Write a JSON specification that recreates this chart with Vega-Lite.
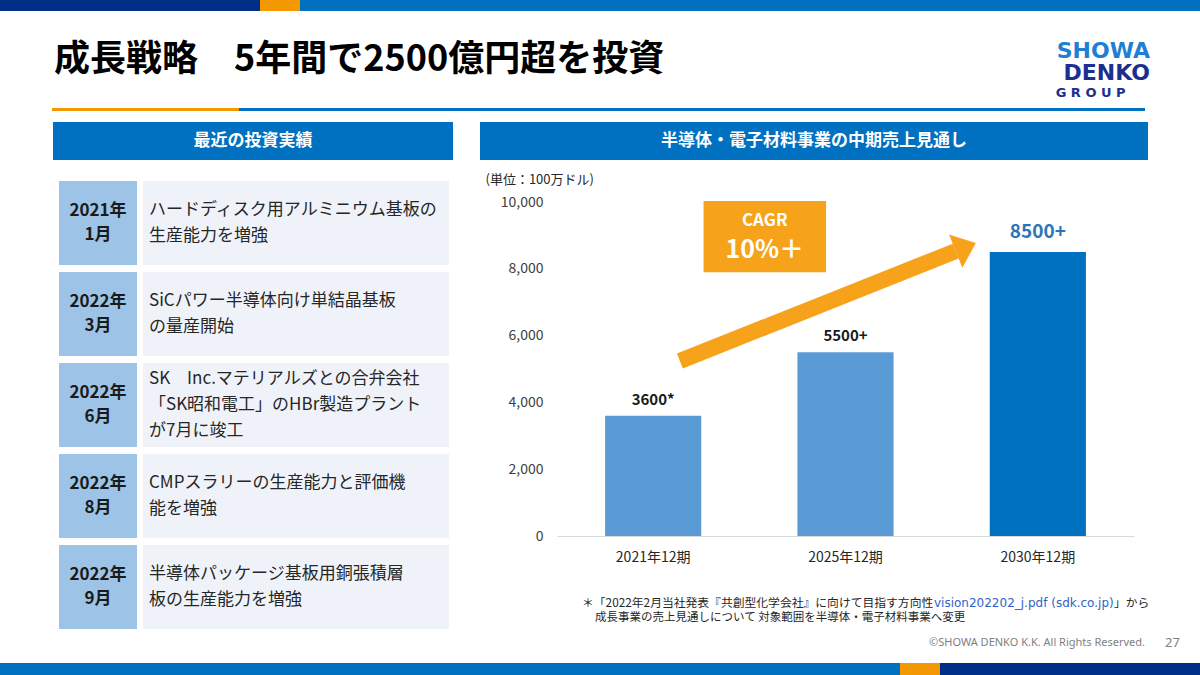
{
  "$schema": "https://vega.github.io/schema/vega-lite/v6.json",
  "padding": 0,
  "background": "#ffffff",
  "autosize": {"type": "pad"},
  "config": {
    "view": {"stroke": null},
    "font": "Noto Sans CJK JP",
    "concat": {"spacing": 0},
    "numberFormat": ",",
    "axisY": {"labelFontSize": 14, "labelColor": "#404040", "labelPadding": 14, "domain": false, "ticks": false, "tickSize": 0, "grid": false, "tickCount": 5,
              "titleAngle": 0, "titleX": -72, "titleY": -23, "titleAlign": "left", "titleBaseline": "middle", "titleFontSize": 13, "titleFontWeight": "normal", "titleColor": "#262626"}
  },
  "datasets": {
    "one": [{}],
    "inv": [
      {"id": 1, "year": "2021年\n1月", "desc": "ハードディスク用アルミニウム基板の\n生産能力を増強"},
      {"id": 2, "year": "2022年\n3月", "desc": "SiCパワー半導体向け単結晶基板\nの量産開始"},
      {"id": 3, "year": "2022年\n6月", "desc": "SK　Inc.マテリアルズとの合弁会社\n「SK昭和電工」のHBr製造プラント\nが7月に竣工"},
      {"id": 4, "year": "2022年\n8月", "desc": "CMPスラリーの生産能力と評価機\n能を増強"},
      {"id": 5, "year": "2022年\n9月", "desc": "半導体パッケージ基板用銅張積層\n板の生産能力を増強"}
    ],
    "sales": [
      {"period": "2021年12期", "value": 3600, "label": "3600*"},
      {"period": "2025年12期", "value": 5500, "label": "5500+"},
      {"period": "2030年12期", "value": 8500, "label": "8500+"}
    ],
    "logo": [
      {"part": "SHOWA", "label": "SHOWA"},
      {"part": "DENKO", "label": "DENKO"},
      {"part": "GROUP", "label": "G  R  O  U  P"}
    ],
    "arrow": [{"p1": 0.639, "v1": 5240, "p2": 2.073, "v2": 8530}],
    "box": [{"p1": 0.762, "p2": 1.399, "v1": 7900, "v2": 10030}],
    "boxText": [
      {"p": 1.08, "v": 9420, "t": "CAGR"},
      {"p": 1.08, "v": 8570, "t": "10%＋"}
    ]
  },
  "spacing": 0,
  "vconcat": [
    {"spacing": 0, "hconcat": [
      {"width": 260, "height": 11, "data": {"name": "one"}, "mark": {"type": "point", "opacity": 0}, "view": {"fill": "#002F87", "stroke": null}},
      {"width": 40, "height": 11, "data": {"name": "one"}, "mark": {"type": "point", "opacity": 0}, "view": {"fill": "#F39800", "stroke": null}},
      {"width": 900, "height": 11, "data": {"name": "one"}, "mark": {"type": "point", "opacity": 0}, "view": {"fill": "#0070C0", "stroke": null}}
    ]},
    {"spacing": 0, "hconcat": [
      {"width": 54, "height": 92, "data": {"name": "one"}, "mark": {"type": "point", "opacity": 0}},
      {"spacing": 0, "vconcat": [
        {"width": 964, "height": 6, "data": {"name": "one"}, "mark": {"type": "point", "opacity": 0}},
        {"width": 964, "height": 86, "data": {"name": "one"},
         "mark": {"type": "text", "align": "left", "baseline": "middle", "text": "成長戦略　5年間で2500億円超を投資", "fontSize": 36, "fontWeight": "bold", "color": "#000000"},
         "encoding": {"x": {"datum": 0, "type": "quantitative", "scale": {"domain": [0, 1]}, "axis": null}}}
      ]},
      {"spacing": 0, "vconcat": [
        {"width": 132, "height": 29, "data": {"name": "one"}, "mark": {"type": "point", "opacity": 0}},
        {"width": 132, "height": 66, "data": {"name": "logo"},
         "encoding": {"y": {"field": "part", "type": "nominal", "scale": {"type": "point", "domain": ["SHOWA", "DENKO", "GROUP"], "padding": 0.5}, "axis": null}},
         "layer": [
           {"transform": [{"filter": "datum.part === 'SHOWA'"}],
            "mark": {"type": "text", "font": "DejaVu Sans", "fontWeight": "bold", "fontSize": 22, "color": "#1E7FD3", "align": "right"},
            "encoding": {"x": {"datum": 1, "type": "quantitative", "scale": {"domain": [0, 1]}, "axis": null}, "text": {"field": "label"}}},
           {"transform": [{"filter": "datum.part === 'DENKO'"}],
            "mark": {"type": "text", "font": "DejaVu Sans", "fontWeight": "bold", "fontSize": 22, "color": "#1B2F8F", "align": "right"},
            "encoding": {"x": {"datum": 1, "type": "quantitative", "scale": {"domain": [0, 1]}, "axis": null}, "text": {"field": "label"}}},
           {"transform": [{"filter": "datum.part === 'GROUP'"}],
            "mark": {"type": "text", "font": "DejaVu Sans", "fontWeight": "bold", "fontSize": 13, "color": "#1B2F8F", "align": "center", "dy": -2},
            "encoding": {"x": {"datum": 0.55, "type": "quantitative", "scale": {"domain": [0, 1]}, "axis": null}, "text": {"field": "label"}}}
         ]}
      ]}
    ]},
    {"spacing": 0, "hconcat": [
      {"width": 52, "height": 3, "data": {"name": "one"}, "mark": {"type": "point", "opacity": 0}},
      {"width": 187, "height": 3, "data": {"name": "one"}, "mark": {"type": "point", "opacity": 0}, "view": {"fill": "#F39800", "stroke": null}},
      {"width": 906, "height": 3, "data": {"name": "one"}, "mark": {"type": "point", "opacity": 0}, "view": {"fill": "#0070C0", "stroke": null}}
    ]},
    {"width": 10, "height": 9, "data": {"name": "one"}, "mark": {"type": "point", "opacity": 0}},
    {"spacing": 0, "hconcat": [
      {"width": 52, "height": 10, "data": {"name": "one"}, "mark": {"type": "point", "opacity": 0}},
      {"spacing": 0, "vconcat": [
        {"width": 400, "height": 38, "data": {"name": "one"}, "view": {"fill": "#0070C0", "stroke": null},
         "mark": {"type": "text", "text": "最近の投資実績", "fontSize": 17, "fontWeight": "bold", "color": "#ffffff"}},
        {"width": 400, "height": 21, "data": {"name": "one"}, "mark": {"type": "point", "opacity": 0}},
        {"spacing": 0, "hconcat": [
          {"width": 5, "height": 10, "data": {"name": "one"}, "mark": {"type": "point", "opacity": 0}},
          {"width": 78, "height": 448, "data": {"name": "inv"},
           "layer": [
             {"mark": {"type": "rect", "color": "#9DC3E6"},
              "encoding": {
                "x": {"datum": 0, "type": "quantitative", "scale": {"domain": [0, 1]}, "axis": null},
                "x2": {"datum": 1},
                "y": {"field": "id", "type": "ordinal", "scale": {"type": "band", "paddingInner": 0.077, "paddingOuter": 0}, "axis": null}}},
             {"mark": {"type": "text", "fontSize": 17, "fontWeight": "bold", "color": "#1a1a1a", "lineBreak": "\n", "lineHeight": 24, "dy": -12},
              "encoding": {
                "y": {"field": "id", "type": "ordinal", "axis": null},
                "text": {"field": "year"}}}
           ]},
          {"width": 6, "height": 10, "data": {"name": "one"}, "mark": {"type": "point", "opacity": 0}},
          {"width": 306, "height": 448, "data": {"name": "inv"},
           "layer": [
             {"mark": {"type": "rect", "color": "#EFF3F9"},
              "encoding": {
                "x": {"datum": 0, "type": "quantitative", "scale": {"domain": [0, 1]}, "axis": null},
                "x2": {"datum": 1},
                "y": {"field": "id", "type": "ordinal", "scale": {"type": "band", "paddingInner": 0.077, "paddingOuter": 0}, "axis": null}}},
             {"transform": [{"filter": "length(split(datum.desc, '\\n')) < 3"}],
              "mark": {"type": "text", "align": "left", "dx": 6, "dy": -13, "fontSize": 17, "color": "#262626", "lineBreak": "\n", "lineHeight": 26},
              "encoding": {
                "x": {"datum": 0, "type": "quantitative", "axis": null},
                "y": {"field": "id", "type": "ordinal", "axis": null},
                "text": {"field": "desc"}}},
             {"transform": [{"filter": "length(split(datum.desc, '\\n')) >= 3"}],
              "mark": {"type": "text", "align": "left", "dx": 6, "dy": -26, "fontSize": 17, "color": "#262626", "lineBreak": "\n", "lineHeight": 26},
              "encoding": {
                "x": {"datum": 0, "type": "quantitative", "axis": null},
                "y": {"field": "id", "type": "ordinal", "axis": null},
                "text": {"field": "desc"}}}
           ]}
        ]}
      ]},
      {"width": 26, "height": 10, "data": {"name": "one"}, "mark": {"type": "point", "opacity": 0}},
      {"spacing": 0, "vconcat": [
        {"width": 668, "height": 38, "data": {"name": "one"}, "view": {"fill": "#0070C0", "stroke": null},
         "mark": {"type": "text", "text": "半導体・電子材料事業の中期売上見通し", "fontSize": 17, "fontWeight": "bold", "color": "#ffffff"}},
        {"width": 668, "height": 13, "data": {"name": "one"}, "mark": {"type": "point", "opacity": 0}},
        {"spacing": 0, "hconcat": [
          {"width": 4, "height": 10, "data": {"name": "one"}, "mark": {"type": "point", "opacity": 0}},
          {"width": 577, "height": 334,
           "resolve": {"scale": {"x": "independent"}},
           "layer": [
             {"data": {"name": "sales"},
              "encoding": {
                "x": {"field": "period", "type": "nominal", "sort": null,
                      "scale": {"type": "band", "paddingInner": 0.5, "paddingOuter": 0.25},
                      "axis": {"title": null, "labelAngle": 0, "labelFontSize": 14, "labelColor": "#262626", "labelPadding": 14, "ticks": false, "tickSize": 0, "domainColor": "#D9D9D9", "domainWidth": 1}}},
              "layer": [
                {"mark": {"type": "bar"},
                 "encoding": {
                   "y": {"field": "value", "type": "quantitative", "scale": {"domain": [0, 10000], "nice": false}, "title": "(単位：100万ドル)",
                         "axis": {"labelExpr": "format(datum.value, ',')", "labelFontSize": 14}},
                   "color": {"field": "period", "type": "nominal", "scale": {"domain": ["2021年12期", "2025年12期", "2030年12期"], "range": ["#5B9BD5", "#5B9BD5", "#0070C0"]}, "legend": null}}},
                {"transform": [{"filter": "datum.period !== '2030年12期'"}],
                 "mark": {"type": "text", "fontSize": 15, "fontWeight": "bold", "color": "#1a1a1a", "dy": -16},
                 "encoding": {
                   "y": {"field": "value", "type": "quantitative", "title": "(単位：100万ドル)", "axis": {"labelExpr": "format(datum.value, ',')", "labelFontSize": 14}},
                   "text": {"field": "label"}}},
                {"transform": [{"filter": "datum.period === '2030年12期'"}],
                 "mark": {"type": "text", "fontSize": 19, "fontWeight": "bold", "color": "#2E75B6", "dy": -20},
                 "encoding": {
                   "y": {"field": "value", "type": "quantitative", "title": "(単位：100万ドル)", "axis": {"labelExpr": "format(datum.value, ',')", "labelFontSize": 14}},
                   "text": {"field": "label"}}}
              ]},
             {"layer": [
                {"data": {"name": "box"},
                 "mark": {"type": "rect", "color": "#F7A21B"},
                 "encoding": {
                   "x": {"field": "p1", "type": "quantitative", "scale": {"domain": [0, 3], "nice": false, "zero": false}, "axis": null},
                   "x2": {"field": "p2"},
                   "y": {"field": "v1", "type": "quantitative", "title": "(単位：100万ドル)", "axis": {"labelExpr": "format(datum.value, ',')", "labelFontSize": 14}},
                   "y2": {"field": "v2"}}},
                {"data": {"name": "boxText"},
                 "transform": [{"filter": "datum.t === 'CAGR'"}],
                 "mark": {"type": "text", "fontSize": 17, "fontWeight": "bold", "color": "#ffffff"},
                 "encoding": {
                   "x": {"field": "p", "type": "quantitative", "scale": {"domain": [0, 3], "nice": false, "zero": false}, "axis": null},
                   "y": {"field": "v", "type": "quantitative", "title": "(単位：100万ドル)", "axis": {"labelExpr": "format(datum.value, ',')", "labelFontSize": 14}},
                   "text": {"field": "t"}}},
                {"data": {"name": "boxText"},
                 "transform": [{"filter": "datum.t !== 'CAGR'"}],
                 "mark": {"type": "text", "fontSize": 25, "fontWeight": "bold", "color": "#ffffff"},
                 "encoding": {
                   "x": {"field": "p", "type": "quantitative", "scale": {"domain": [0, 3], "nice": false, "zero": false}, "axis": null},
                   "y": {"field": "v", "type": "quantitative", "title": "(単位：100万ドル)", "axis": {"labelExpr": "format(datum.value, ',')", "labelFontSize": 14}},
                   "text": {"field": "t"}}},
                {"data": {"name": "arrow"},
                 "mark": {"type": "rule", "color": "#F7A21B", "strokeWidth": 16, "strokeCap": "butt"},
                 "encoding": {
                   "x": {"field": "p1", "type": "quantitative", "scale": {"domain": [0, 3], "nice": false, "zero": false}, "axis": null},
                   "x2": {"field": "p2"},
                   "y": {"field": "v1", "type": "quantitative", "title": "(単位：100万ドル)", "axis": {"labelExpr": "format(datum.value, ',')", "labelFontSize": 14}},
                   "y2": {"field": "v2"}}},
                {"data": {"name": "arrow"},
                 "mark": {"type": "point", "shape": "M0,-1L1.2,0L0,1Z", "size": 1296, "angle": -21.75, "filled": true, "opacity": 1, "color": "#F7A21B", "strokeWidth": 0},
                 "encoding": {
                   "x": {"field": "p2", "type": "quantitative", "scale": {"domain": [0, 3], "nice": false, "zero": false}, "axis": null},
                   "y": {"field": "v2", "type": "quantitative", "title": "(単位：100万ドル)", "axis": {"labelExpr": "format(datum.value, ',')", "labelFontSize": 14}}}}
             ]}
           ]}
        ]},
        {"width": 10, "height": 31, "data": {"name": "one"}, "mark": {"type": "point", "opacity": 0}},
        {"spacing": 0, "hconcat": [
          {"width": 102, "height": 15, "data": {"name": "one"}, "mark": {"type": "point", "opacity": 0}},
          {"width": 349, "height": 15, "data": {"name": "one"},
           "mark": {"type": "text", "align": "left", "fontSize": 11.8, "color": "#262626", "text": "＊「2022年2月当社発表『共創型化学会社』に向けて目指す方向性"},
           "encoding": {"x": {"datum": 0, "type": "quantitative", "scale": {"domain": [0, 1]}, "axis": null}}},
          {"width": 180, "height": 15, "data": {"name": "one"},
           "mark": {"type": "text", "align": "left", "fontSize": 12, "font": "DejaVu Sans", "color": "#2F62C9", "text": "vision202202_j.pdf (sdk.co.jp)"},
           "encoding": {"x": {"datum": 0, "type": "quantitative", "scale": {"domain": [0, 1]}, "axis": null}}},
          {"width": 40, "height": 15, "data": {"name": "one"},
           "mark": {"type": "text", "align": "left", "fontSize": 11.8, "color": "#262626", "text": "」から"},
           "encoding": {"x": {"datum": 0, "type": "quantitative", "scale": {"domain": [0, 1]}, "axis": null}}}
        ]},
        {"spacing": 0, "hconcat": [
          {"width": 115, "height": 15, "data": {"name": "one"}, "mark": {"type": "point", "opacity": 0}},
          {"width": 420, "height": 15, "data": {"name": "one"},
           "mark": {"type": "text", "align": "left", "fontSize": 11.5, "color": "#262626", "text": "成長事業の売上見通しについて 対象範囲を半導体・電子材料事業へ変更"},
           "encoding": {"x": {"datum": 0, "type": "quantitative", "scale": {"domain": [0, 1]}, "axis": null}}}
        ]}
      ]}
    ]},
    {"width": 10, "height": 7, "data": {"name": "one"}, "mark": {"type": "point", "opacity": 0}},
    {"spacing": 0, "hconcat": [
      {"width": 900, "height": 14, "data": {"name": "one"}, "mark": {"type": "point", "opacity": 0}},
      {"width": 245, "height": 14, "data": {"name": "one"},
       "mark": {"type": "text", "align": "right", "fontSize": 11, "font": "Noto Sans", "color": "#808080", "text": "©SHOWA DENKO K.K. All Rights Reserved."},
       "encoding": {"x": {"datum": 1, "type": "quantitative", "scale": {"domain": [0, 1]}, "axis": null}}},
      {"width": 55, "height": 14, "data": {"name": "one"},
       "mark": {"type": "text", "fontSize": 13, "font": "Noto Sans", "color": "#7F7F7F", "text": "27"}}
    ]},
    {"width": 10, "height": 13, "data": {"name": "one"}, "mark": {"type": "point", "opacity": 0}},
    {"spacing": 0, "hconcat": [
      {"width": 900, "height": 13, "data": {"name": "one"}, "mark": {"type": "point", "opacity": 0}, "view": {"fill": "#0070C0", "stroke": null}},
      {"width": 40, "height": 13, "data": {"name": "one"}, "mark": {"type": "point", "opacity": 0}, "view": {"fill": "#F39800", "stroke": null}},
      {"width": 260, "height": 13, "data": {"name": "one"}, "mark": {"type": "point", "opacity": 0}, "view": {"fill": "#002F87", "stroke": null}}
    ]}
  ]
}
